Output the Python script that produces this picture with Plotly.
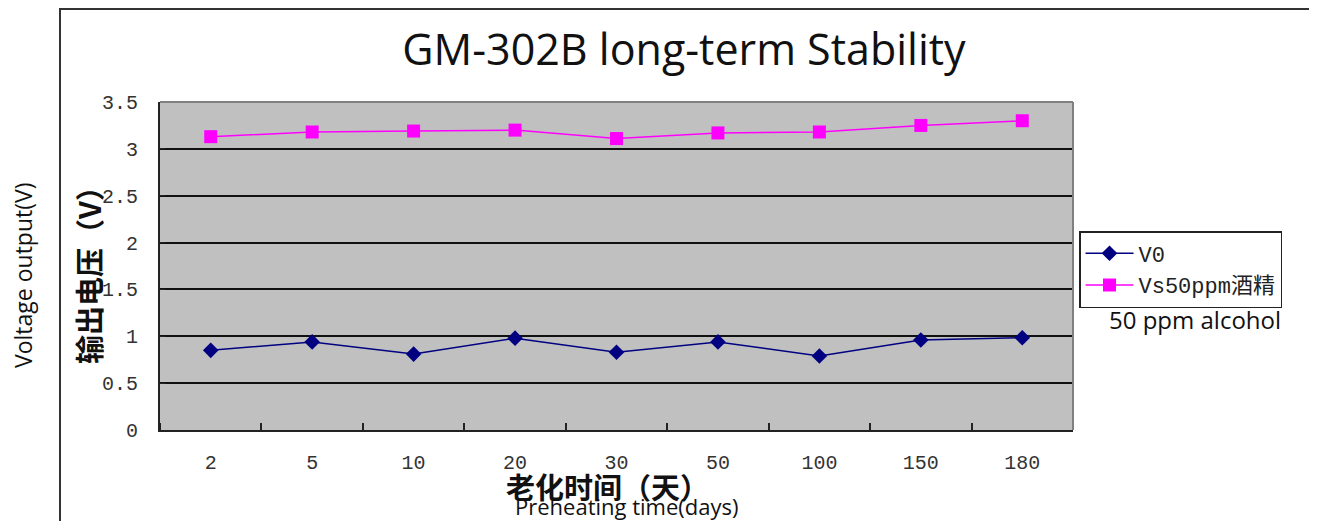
import plotly.graph_objects as go

days = ["2", "5", "10", "20", "30", "50", "100", "150", "180"]
v0 = [0.85, 0.94, 0.81, 0.98, 0.83, 0.94, 0.79, 0.96, 0.985]
vs50 = [3.13, 3.18, 3.19, 3.20, 3.11, 3.17, 3.18, 3.25, 3.30]

# page body has an 8px margin, so the figure is drawn from (8, 8)
OFF = 8
W, H = 1317 - OFF, 521 - OFF
L, R, T, B = 160, 1073, 102, 430   # plot area in screen pixels
pw, ph = R - L, B - T


def px(x):
    return (x - L) / pw


def py(y):
    return (B - y) / ph


xs = list(range(len(days)))
tickfont = dict(family="Liberation Mono, Noto Sans CJK SC", size=20, color="#333333")

fig = go.Figure()
fig.add_trace(go.Scatter(
    x=xs, y=v0, name="V0", mode="lines+markers",
    line=dict(color="#000080", width=1.5),
    marker=dict(symbol="diamond", size=12, color="#000080"),
))
fig.add_trace(go.Scatter(
    x=xs, y=vs50, name="Vs50ppm酒精", mode="lines+markers",
    line=dict(color="#ff00ff", width=1.5),
    marker=dict(symbol="square", size=13, color="#ff00ff"),
))

fig.update_layout(
    width=W, height=H,
    margin=dict(l=L - OFF, r=1317 - R, t=T - OFF, b=521 - B, pad=0),
    paper_bgcolor="white", plot_bgcolor="#c0c0c0",
    title=dict(text="GM-302B long-term Stability", x=px(684), xref="paper", xanchor="center",
               y=1 - (50 - OFF) / H, yanchor="middle",
               font=dict(family="Open Sans", size=43, color="#111111")),
    showlegend=True,
    legend=dict(x=px(1079), y=py(231), xanchor="left", yanchor="top",
                bordercolor="#222222", borderwidth=1.5, bgcolor="white",
                font=dict(family="Liberation Mono, Noto Sans CJK SC", size=22, color="#222222"),
                tracegroupgap=0, itemwidth=48),
    xaxis=dict(
        range=[-0.5, len(days) - 0.5], tickmode="array", tickvals=xs, ticktext=days,
        ticks="", showgrid=False, zeroline=False,
        showline=True, linecolor="#222222", linewidth=2,
        tickfont=tickfont, ticklabelstandoff=13,
        minor=dict(tickmode="array", tickvals=[i - 0.5 for i in range(len(days) + 1)],
                   ticks="inside", ticklen=7, tickcolor="#222222", tickwidth=1.5, showgrid=False),
    ),
    yaxis=dict(
        range=[0, 3.5], tickmode="linear", tick0=0, dtick=0.5,
        showgrid=True, gridcolor="#111111", gridwidth=1.5, zeroline=False,
        showline=True, linecolor="#222222", linewidth=2,
        ticks="inside", ticklen=5, tickcolor="#222222",
        tickfont=tickfont, ticklabelstandoff=16,
    ),
    shapes=[
        dict(type="line", xref="paper", yref="paper", x0=0, x1=1, y0=1, y1=1,
             line=dict(color="#808080", width=2), layer="above"),
        dict(type="line", xref="paper", yref="paper", x0=1, x1=1, y0=0, y1=1,
             line=dict(color="#808080", width=2), layer="above"),
        dict(type="rect", xref="paper", yref="paper",
             x0=px(60), x1=px(1314), y0=py(9), y1=py(540),
             line=dict(color="#333333", width=2), fillcolor="rgba(0,0,0,0)", layer="below"),
    ],
    annotations=[
        dict(text="<b>输出电压（V）</b>", xref="paper", yref="paper", x=px(88), y=py(268),
             textangle=-90, showarrow=False, xanchor="center", yanchor="middle",
             font=dict(family="Noto Sans CJK SC", size=29, color="#111111")),
        dict(text="Voltage output(V)", xref="paper", yref="paper", x=px(23), y=py(275),
             textangle=-90, showarrow=False, xanchor="center", yanchor="middle",
             font=dict(family="Open Sans", size=23, color="#111111")),
        dict(text="<b>老化时间（天）</b>", xref="paper", yref="paper", x=px(607), y=py(486),
             showarrow=False, xanchor="center", yanchor="middle",
             font=dict(family="Noto Sans CJK SC", size=29, color="#111111")),
        dict(text="Preheating time(days)", xref="paper", yref="paper", x=px(626), y=py(506),
             showarrow=False, xanchor="center", yanchor="middle",
             font=dict(family="Open Sans", size=22, color="#111111")),
        dict(text="50 ppm alcohol", xref="paper", yref="paper", x=px(1195), y=py(319),
             showarrow=False, xanchor="center", yanchor="middle",
             font=dict(family="Open Sans", size=24, color="#111111")),
    ],
)

fig.write_html("out.html")
